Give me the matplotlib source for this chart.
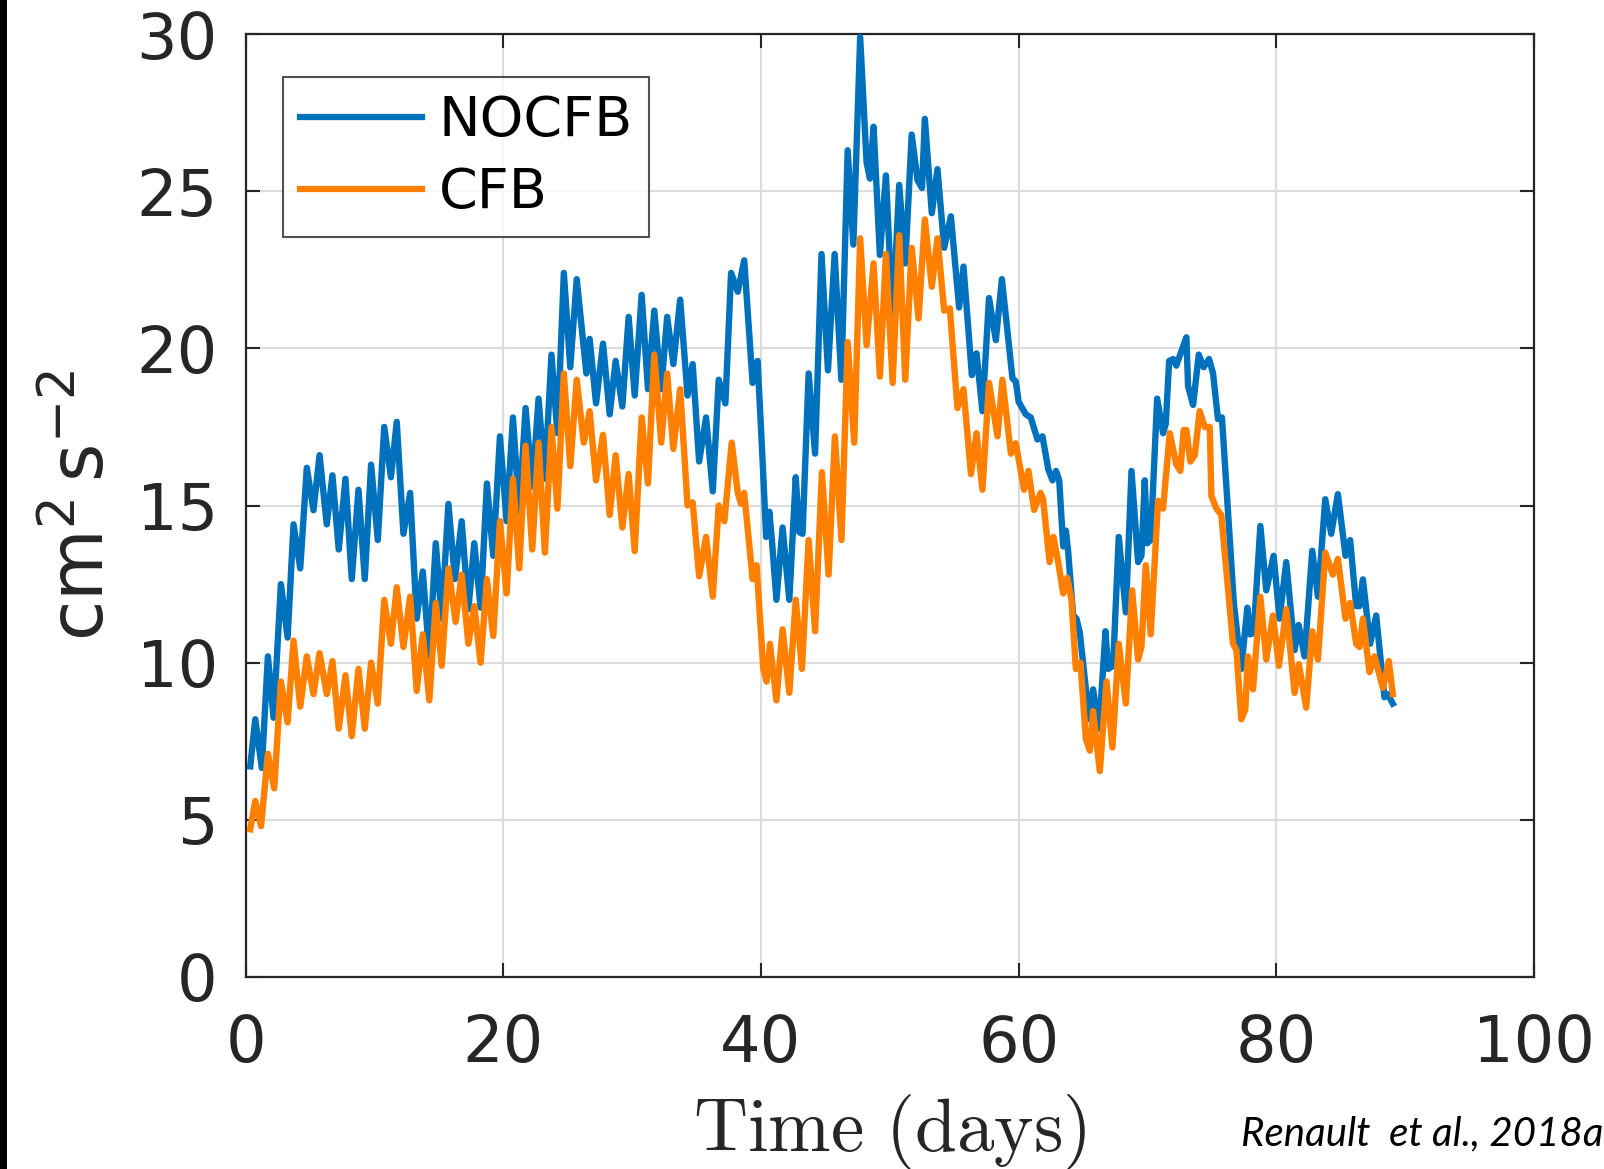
import matplotlib
matplotlib.use('Agg')
import matplotlib.pyplot as plt
from matplotlib.patches import Rectangle

# ---- data ----
days_nocfb = [0.36, 0.75, 1.26, 1.73, 2.17, 2.74, 3.26, 3.72, 4.24, 4.75, 5.27, 5.74, 6.3, 6.74,
              7.23, 7.75, 8.24, 8.76, 9.25, 9.74, 10.26, 10.76, 11.28, 11.73, 12.25, 12.77, 13.28,
              13.75, 14.26, 14.76, 15.22, 15.74, 16.25, 16.77, 17.29, 17.75, 18.24, 18.73, 19.22,
              19.74, 20.26, 20.75, 21.24, 21.73, 22.25, 22.74, 23.23, 23.74, 24.2, 24.7, 25.2, 25.7,
              26.45, 26.7, 27.2, 27.74, 28.26, 28.72, 29.24, 29.73, 30.2, 30.74, 31.23, 31.72, 32.26,
              32.72, 33.2, 33.73, 34.3, 34.7, 35.2, 35.74, 36.26, 36.72, 37.24, 37.68, 38.2, 38.7,
              39.35, 39.74, 40.13, 40.4, 40.65, 40.85, 41.2, 41.68, 42.2, 42.7, 42.97, 43.23, 43.7,
              44.2, 44.7, 45.2, 45.72, 46.24, 46.73, 47.17, 47.7, 48.2, 48.46, 48.74, 49.23, 49.7,
              50.22, 50.73, 51.2, 51.7, 52.15, 52.5, 52.72, 53.26, 53.7, 54.22, 54.74, 55.38, 55.72,
              56.37, 56.73, 57.19, 57.7, 58.23, 58.7, 59.52, 59.78, 60.0, 60.55, 60.94, 61.46, 61.85,
              62.3, 62.63, 62.9, 63.15, 63.46, 63.67, 63.85, 64.23, 64.49, 64.75, 65.47, 65.78, 66.25,
              66.74, 66.95, 67.33, 67.77, 68.32, 68.76, 69.27, 69.53, 69.79, 69.97, 70.25, 70.75,
              71.21, 71.42, 71.68, 71.99, 72.24, 72.45, 73.02, 73.15, 73.54, 73.98, 74.36, 74.78,
              75.09, 75.47, 75.78, 76.71, 77.28, 77.75, 77.98, 78.24, 78.76, 79.22, 79.79, 80.25,
              80.77, 81.42, 81.73, 82.19, 82.79, 83.23, 83.8, 84.26, 84.78, 85.37, 85.73, 86.2,
              86.46, 86.72, 87.28, 87.75, 88.39, 88.65, 89.04]
nocfb = [6.7, 8.2, 6.65, 10.2, 8.25, 12.5, 10.8, 14.4, 13.0, 16.2, 14.85, 16.6, 14.4, 15.96,
         13.6, 15.85, 12.66, 15.5, 12.66, 16.3, 13.9, 17.5, 15.9, 17.66, 14.1, 15.4, 11.4,
         12.9, 10.2, 13.8, 11.4, 15.05, 12.66, 14.5, 11.7, 13.8, 11.75, 15.7, 13.4,
         17.2, 14.5, 17.8, 14.8, 18.1, 15.6, 18.4, 15.85, 19.8, 17.3, 22.4, 19.4, 22.2,
         19.2, 20.3, 18.25, 20.15, 17.9, 19.6, 18.15, 21.0, 18.5, 21.7, 18.7, 21.2, 18.7,
         21.0, 19.5, 21.55, 18.5, 19.5, 16.4, 17.8, 15.45, 19.0, 18.25, 22.4, 21.8, 22.8,
         18.9, 19.6, 16.4, 14.0, 14.8, 13.9, 12.0, 14.3, 12.0, 15.9, 14.15, 14.1, 19.2,
         16.65, 23.0, 19.3, 23.0, 19.0, 26.3, 23.3, 29.9, 25.9, 25.4, 27.05, 22.97, 25.5,
         20.9, 25.2, 22.7, 26.8, 25.35, 25.1, 27.3, 24.3, 25.7, 23.2, 24.2, 21.3, 22.6,
         19.15, 19.84, 18.0, 21.6, 20.26, 22.2, 19.05, 18.94, 18.3, 17.9, 17.8, 17.1, 17.2,
         16.15, 15.8, 16.1, 15.8, 13.7, 14.2, 13.5, 11.5, 11.4, 10.95, 8.2, 9.15, 7.9,
         11.0, 9.8, 9.9, 14.0, 11.6, 16.1, 13.2, 13.4, 15.8, 13.8, 13.9, 18.4,
         17.3, 17.6, 19.6, 19.66, 19.45, 19.7, 20.35, 18.8, 18.2, 19.8, 19.4, 19.66,
         19.2, 17.75, 17.8, 11.86, 9.8, 11.75, 10.9, 10.95, 14.35, 12.3, 13.4, 11.4,
         13.2, 10.4, 11.2, 10.2, 13.56, 12.1, 15.2, 14.1, 15.36, 13.4, 13.9, 11.8,
         11.8, 12.65, 10.6, 11.5, 8.9, 9.0, 8.7]

days_cfb = [0.36, 0.75, 1.2, 1.73, 2.22, 2.74, 3.26, 3.72, 4.24, 4.75, 5.27, 5.74, 6.3, 6.74,
            7.23, 7.75, 8.24, 8.76, 9.25, 9.74, 10.26, 10.76, 11.28, 11.73, 12.25, 12.77, 13.28,
            13.75, 14.26, 14.76, 15.22, 15.74, 16.3, 16.77, 17.29, 17.75, 18.24, 18.73, 19.22,
            19.74, 20.26, 20.75, 21.24, 21.73, 22.25, 22.74, 23.23, 23.74, 24.2, 24.7, 25.2, 25.7,
            26.25, 26.7, 27.2, 27.74, 28.26, 28.72, 29.24, 29.73, 30.2, 30.74, 31.23, 31.72, 32.26,
            32.72, 33.2, 33.73, 34.3, 34.7, 35.2, 35.74, 36.26, 36.72, 37.16, 37.73, 38.2, 38.45,
            38.7, 39.35, 39.66, 40.18, 40.44, 40.7, 41.2, 41.68, 42.2, 42.7, 43.18, 43.7, 44.2,
            44.73, 45.25, 45.74, 46.25, 46.73, 47.24, 47.7, 48.2, 48.74, 49.23, 49.7, 50.22, 50.73,
            51.2, 51.7, 52.23, 52.72, 53.26, 53.7, 54.22, 54.66, 55.25, 55.72, 56.3, 56.73, 57.19,
            57.7, 58.36, 58.74, 59.4, 59.78, 60.42, 60.76, 61.2, 61.7, 61.9, 62.4, 62.7, 63.07,
            63.46, 63.77, 64.1, 64.44, 64.8, 65.22, 65.53, 65.78, 66.3, 66.82, 67.28, 67.77, 68.32,
            68.81, 69.27, 69.53, 69.87, 70.25, 70.82, 71.21, 71.73, 72.24, 72.55, 72.81, 73.02,
            73.33, 73.67, 74.05, 74.44, 74.83, 74.96, 75.35, 75.73, 76.64, 76.9, 77.28, 77.59,
            77.8, 78.19, 78.76, 79.22, 79.74, 80.2, 80.77, 81.42, 81.75, 82.32, 82.79, 83.23,
            83.8, 84.39, 84.78, 85.37, 85.73, 86.2, 86.46, 86.72, 87.23, 87.62, 88.27, 88.73, 89.04]
cfb = [4.7, 5.6, 4.8, 7.1, 6.0, 9.4, 8.1, 10.7, 8.6, 10.2, 9.0, 10.3, 9.0, 10.05,
       7.9, 9.6, 7.66, 9.8, 7.9, 10.0, 8.7, 12.0, 10.6, 12.4, 10.5, 12.1, 9.1,
       10.9, 8.8, 11.9, 9.9, 13.0, 11.3, 12.8, 10.6, 11.8, 10.0, 12.66, 10.85,
       14.5, 12.2, 15.85, 13.0, 16.9, 13.6, 17.0, 13.5, 17.5, 14.9, 19.2, 16.25, 19.0,
       17.0, 18.0, 15.8, 17.25, 14.7, 16.6, 14.3, 16.0, 13.55, 17.8, 15.7, 19.8, 17.0,
       19.2, 16.8, 18.7, 15.0, 15.1, 12.75, 14.0, 12.1, 15.0, 14.5, 17.0, 15.4, 15.05,
       15.4, 12.66, 13.1, 9.8, 9.4, 10.6, 8.8, 11.06, 9.04, 12.0, 9.8, 13.9, 11.0,
       16.06, 12.8, 17.2, 13.9, 20.2, 17.0, 23.5, 20.1, 22.7, 19.1, 23.0, 18.9, 23.6,
       19.0, 23.2, 20.95, 24.1, 21.96, 23.5, 21.2, 21.27, 18.1, 18.7, 16.0, 17.3, 15.5,
       18.9, 17.2, 19.0, 16.65, 16.98, 15.5, 16.1, 14.86, 15.4, 15.2, 13.2, 14.0, 13.2,
       12.2, 12.7, 12.0, 9.8, 10.0, 7.56, 7.2, 8.46, 6.55, 9.4, 7.3, 10.6, 8.7,
       12.3, 10.1, 10.5, 13.1, 10.9, 15.15, 14.9, 17.3, 16.3, 16.1, 17.4, 17.4,
       16.4, 16.6, 18.0, 17.5, 17.5, 15.3, 14.9, 14.7, 10.6, 10.4, 8.2, 8.5,
       10.2, 9.15, 12.1, 10.1, 11.5, 9.9, 11.7, 9.04, 9.95, 8.57, 11.0, 10.1,
       13.5, 12.8, 13.3, 11.4, 11.9, 10.6, 10.5, 11.4, 9.7, 10.2, 9.2, 10.05, 9.0]

series_labels = ['NOCFB', 'CFB']
x_ticks = [0, 20, 40, 60, 80, 100]
y_ticks = [0, 5, 10, 15, 20, 25, 30]

# ---- figure ----
W, H = 1604, 1169
fig = plt.figure(figsize=(W / 100, H / 100), dpi=100)
fig.patch.set_facecolor('white')

# black strip at the left edge of the reference
fig.add_artist(Rectangle((0, 0), 7 / W, 1, transform=fig.transFigure,
                         facecolor='black', edgecolor='none', zorder=10))

ax = fig.add_axes([245.6 / W, 1 - 977 / H, 1288.4 / W, 943 / H])
dark = '#262626'

ax.plot(days_nocfb, nocfb, color='#0072BD', lw=4.6, label=series_labels[0],
        solid_joinstyle='round', zorder=3)
ax.plot(days_cfb, cfb, color='#FF8000', lw=4.6, label=series_labels[1],
        solid_joinstyle='round', zorder=3)

ax.set_xlim(0, 100)
ax.set_ylim(0, 30)
ax.set_xticks(x_ticks)
ax.set_yticks(y_ticks)
ax.tick_params(axis='both', which='both', direction='in', length=10, width=1.5,
               colors=dark, labelsize=46, top=True, right=True)
ax.tick_params(axis='y', pad=20)
ax.tick_params(axis='x', pad=26)
for s in ax.spines.values():
    s.set_color(dark)
    s.set_linewidth(1.6)
ax.grid(True, color='#dcdcdc', lw=1.5)
ax.set_axisbelow(True)

ax.set_ylabel(r'cm$^{2}\,$s$^{-2}$', fontsize=53, color=dark, labelpad=12)
ax.set_xlabel(r'$\mathrm{Time\ (days)}$', fontsize=54, color=dark,
              math_fontfamily='cm', labelpad=12)

leg = ax.legend(loc='upper left', bbox_to_anchor=(0.029, 0.954), fontsize=40,
                handlelength=2.2, handletextpad=0.3, borderpad=0.3,
                labelspacing=0.33, frameon=True, fancybox=False, borderaxespad=0)
leg.get_frame().set_edgecolor(dark)
leg.get_frame().set_linewidth(1.5)
for line in leg.get_lines():
    line.set_linewidth(4.5)

fig.text(1241 / W, 1 - 1145 / H, 'Renault  et al., 2018a', fontfamily='Lato',
         style='italic', fontsize=29, color='black', ha='left', va='baseline')

fig.savefig('out.png', dpi=100, facecolor='white')
